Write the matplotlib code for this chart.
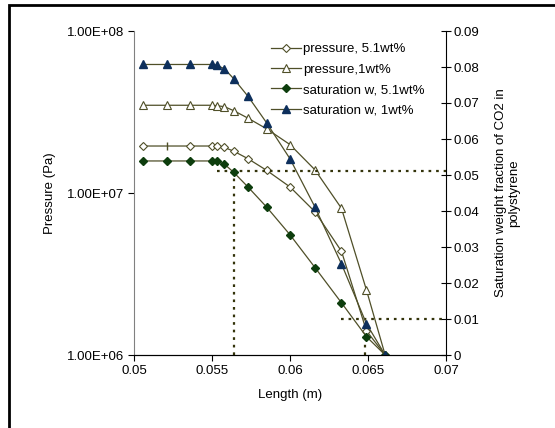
import matplotlib

matplotlib.use("Agg")
import matplotlib.pyplot as plt
from matplotlib.patches import Rectangle
from matplotlib.ticker import FixedLocator, FuncFormatter

plt.rcParams["font.family"] = ["Liberation Sans", "DejaVu Sans"]
plt.rcParams["font.size"] = 9.5

# Data
length = [0.0506, 0.0521, 0.0536, 0.0550, 0.0553, 0.0558, 0.0564, 0.0573,
          0.0585, 0.0600, 0.0616, 0.0633, 0.0649, 0.0661]
p_51 = [1.95e7, 1.95e7, 1.95e7, 1.95e7, 1.94e7, 1.91e7, 1.81e7, 1.63e7,
        1.38e7, 1.09e7, 7.66e6, 4.37e6, 1.41e6, 1.0e6]
p_1 = [3.48e7, 3.48e7, 3.48e7, 3.48e7, 3.46e7, 3.41e7, 3.22e7, 2.90e7,
       2.49e7, 1.99e7, 1.39e7, 8.04e6, 2.52e6, 1.0e6]
w_51 = [0.0539, 0.0539, 0.0539, 0.0539, 0.0538, 0.0530, 0.0507, 0.0467,
        0.0411, 0.0334, 0.0243, 0.0145, 0.0051, 0.0]
w_1 = [0.0807, 0.0807, 0.0807, 0.0807, 0.0805, 0.0795, 0.0767, 0.0719,
       0.0645, 0.0545, 0.0411, 0.0253, 0.0087, 0.0]

# guide lines (dotted)
guide_5_x = 0.0564
guide_5_w = 0.0512
guide_5_start = 0.0553
guide_1_x = 0.0648
guide_1_w = 0.010
guide_1_start = 0.0633

x_ticks = [0.05, 0.055, 0.06, 0.065, 0.07]
p_ticks = [1e6, 1e7, 1e8]
w_ticks = [0, 0.01, 0.02, 0.03, 0.04, 0.05, 0.06, 0.07, 0.08, 0.09]

LINE = "#4f4f28"
GUIDE = "#33330a"

fig = plt.figure(figsize=(5.55, 4.28), dpi=100)
ax = fig.add_axes([134 / 555, 1 - 355 / 428, 312 / 555, 324 / 428])
ax2 = ax.twinx()

# pressure curves (left, log)
ax.plot(length, p_51, color=LINE, lw=0.9, marker="D", ms=4.2, mfc="white",
        mec=LINE, mew=0.8, markevery=[0] + list(range(2, len(length))),
        label="pressure, 5.1wt%")
ax.plot(length[1], p_51[1], marker="|", ms=6, color=LINE, mew=1)
ax.plot(length, p_1, color=LINE, lw=0.9, marker="^", ms=5.5, mfc="white",
        mec=LINE, mew=0.8, label="pressure,1wt%")

# saturation curves (right, linear)
ax2.plot(length, w_51, color=LINE, lw=0.9, marker="D", ms=4.2, mfc="#0d3d0d",
         mec="#0d3d0d", label="saturation w, 5.1wt%")
ax2.plot(length, w_1, color=LINE, lw=0.9, marker="^", ms=5.5, mfc="#0d2f5c",
         mec="#0d2f5c", label="saturation w, 1wt%")

# dotted guides
dot = dict(color=GUIDE, lw=1.6, ls=(0, (1.2, 2.2)), zorder=1)
ax2.plot([guide_5_start, 0.07], [guide_5_w, guide_5_w], **dot)
ax2.plot([guide_5_x, guide_5_x], [0, 0.0505], **dot)
ax2.plot([guide_1_start, 0.07], [guide_1_w, guide_1_w], **dot)
ax2.plot([guide_1_x, guide_1_x], [0, 0.004], **dot)

ax.set_yscale("log")
ax.set_xlim(0.05, 0.07)
ax.set_ylim(1e6, 1e8)
ax2.set_ylim(0, 0.09)

ax.xaxis.set_major_locator(FixedLocator(x_ticks))
ax.xaxis.set_major_formatter(FuncFormatter(lambda v, _: f"{v:g}"))
ax.yaxis.set_major_locator(FixedLocator(p_ticks))
ax.yaxis.set_minor_locator(FixedLocator([]))
ax.yaxis.set_major_formatter(FuncFormatter(lambda v, _: f"{v:.2E}"))
ax2.yaxis.set_major_locator(FixedLocator(w_ticks))
ax2.yaxis.set_major_formatter(FuncFormatter(lambda v, _: "0" if v == 0 else f"{v:.2f}"))

for a in (ax, ax2):
    a.spines["top"].set_visible(False)
    a.tick_params(labelsize=9.5, length=4, width=0.8, color="black", pad=3)
ax.spines["left"].set_color("#808080")
ax.spines["right"].set_visible(False)
ax2.spines["left"].set_visible(False)
ax2.tick_params(axis="y", direction="inout", length=7, pad=2)

ax.set_xlabel("Length (m)", fontsize=9.5, labelpad=9)
ax.set_ylabel("Pressure (Pa)", fontsize=9.5, labelpad=8)
ax2.set_ylabel("Saturation weight fraction of CO2 in\npolystyrene",
               fontsize=9.5, labelpad=11)

handles = ax.get_lines()[0:1] + ax.get_lines()[2:3] + ax2.get_lines()[0:2]
fig.legend(handles, [h.get_label() for h in handles], loc="upper left",
           bbox_to_anchor=(271 / 555, 1 - 43 / 428), frameon=False,
           fontsize=9.5, handlelength=2.3, handletextpad=0.1, labelspacing=0.62,
           borderpad=0, borderaxespad=0)

fig.add_artist(Rectangle((9 / 555, -0.1), 1.2, 1.1 - 5 / 428,
                         transform=fig.transFigure, fill=False, lw=2,
                         edgecolor="black", clip_on=False))

fig.savefig("out.png", dpi=100)
